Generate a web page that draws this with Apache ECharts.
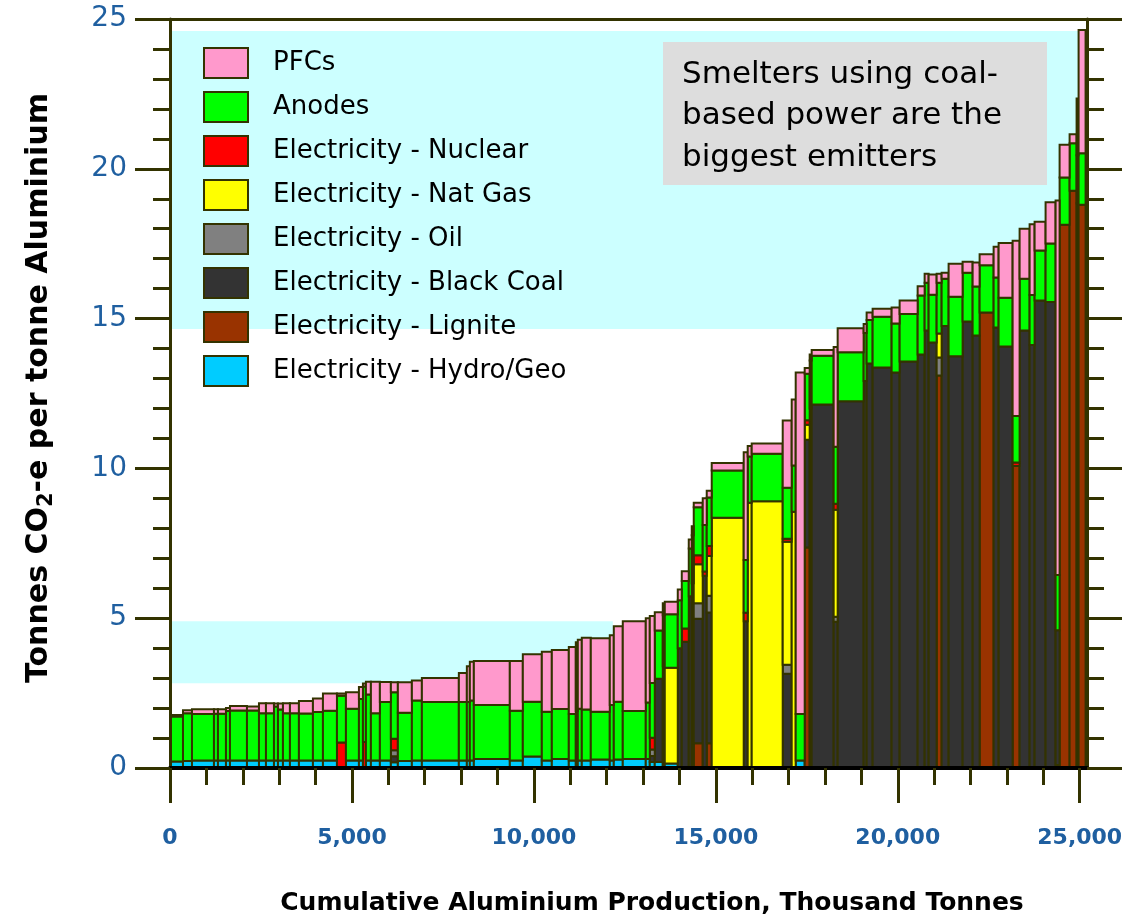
<!DOCTYPE html>
<html>
<head>
<meta charset="utf-8">
<title>Aluminium smelter emissions curve</title>
<script src="https://cdn.jsdelivr.net/npm/echarts@6/dist/echarts.min.js"></script>
<style>
  html, body { margin: 0; padding: 0; background: #ffffff; }
  #chart { width: 1128px; height: 919px; }
</style>
</head>
<body>
<div id="chart"></div>
<script>
// One entry per smelter, ordered by total emission intensity.
// production: thousand tonnes per year; components: t CO2-e per t aluminium.
const production = [357, 247, 604, 110, 220, 110, 467, 330, 192, 220,
  110, 137, 192, 247, 385, 275, 385, 247, 357, 110,
  82, 137, 247, 302, 192, 385, 275, 1016, 220, 82,
  110, 989, 357, 522, 275, 467, 192, 55, 110, 247,
  522, 110, 247, 632, 110, 137, 220, 55, 357, 110,
  192, 82, 55, 247, 110, 137, 879, 110, 110, 852,
  247, 110, 247, 137, 55, 604, 110, 714, 82, 165,
  522, 220, 495, 192, 110, 220, 137, 192, 385, 275,
  192, 385, 137, 385, 192, 275, 137, 302, 275, 110,
  275, 192, 55, 192];

const hydro = [0.22, 0.23, 0.25, 0.25, 0.25, 0.25, 0.25, 0.25, 0.25, 0.25,
  0.25, 0.25, 0.25, 0.25, 0.25, 0.25, 0.25, 0, 0.25, 0.25,
  0, 0.25, 0.25, 0.25, 0.19, 0.23, 0.25, 0.25, 0.25, 0.25,
  0.25, 0.3, 0.25, 0.38, 0.25, 0.3, 0.25, 0.25, 0.25, 0.25,
  0.28, 0.25, 0.28, 0.3, 0.3, 0.2, 0.2, 0.2, 0.15, 0,
  0, 0, 0, 0, 0, 0, 0, 0, 0, 0,
  0, 0, 0.25, 0, 0, 0, 0, 0, 0, 0,
  0, 0, 0, 0, 0, 0, 0, 0, 0, 0,
  0, 0, 0, 0, 0, 0, 0, 0, 0, 0.1,
  0, 0, 0, 0];

const lignite = [0, 0, 0, 0, 0, 0, 0, 0, 0, 0,
  0, 0, 0, 0, 0, 0, 0, 0, 0, 0,
  0, 0, 0, 0, 0, 0, 0, 0, 0, 0,
  0, 0, 0, 0, 0, 0, 0, 0, 0, 0,
  0, 0, 0, 0, 0, 0, 0, 0, 0, 0,
  0, 0, 0, 0.83, 0, 0.83, 0, 0, 0, 0,
  0, 0, 0, 7.36, 0, 0, 0, 0, 0, 0,
  0, 0, 0, 0, 0, 0, 13.1, 0, 0, 0,
  0, 15.2, 0, 0, 10.08, 0, 0, 0, 0, 0,
  18.13, 19.27, 18.85, 18.8];

const blackCoal = [0, 0, 0, 0, 0, 0, 0, 0, 0, 0,
  0, 0, 0, 0, 0, 0, 0, 0, 0, 0,
  0, 0, 0, 0, 0.2, 0, 0, 0, 0, 0,
  0, 0, 0, 0, 0, 0, 0, 0, 0, 0,
  0, 0, 0, 0, 0, 0.2, 2.78, 0, 0, 4.0,
  4.21, 5.73, 6.17, 4.15, 6.42, 4.36, 0, 4.9, 0, 0,
  3.15, 0, 0, 3.6, 12.0, 12.13, 4.88, 12.24, 12.92, 13.5,
  13.37, 13.2, 13.57, 13.8, 14.6, 14.2, 0, 14.75, 13.74, 14.9,
  14.44, 0, 14.7, 14.07, 0, 14.6, 14.12, 15.6, 15.55, 4.5,
  0, 0, 0, 0];

const oil = [0, 0, 0, 0, 0, 0, 0, 0, 0, 0,
  0, 0, 0, 0, 0, 0, 0, 0, 0, 0,
  0, 0, 0, 0, 0.2, 0, 0, 0, 0, 0,
  0, 0, 0, 0, 0, 0, 0, 0, 0, 0,
  0, 0, 0, 0, 0, 0.22, 0, 0, 0, 0,
  0, 0, 0, 0.52, 0, 0.56, 0, 0, 0, 0,
  0.3, 0, 0, 0, 0, 0, 0.17, 0, 0, 0,
  0, 0, 0, 0, 0, 0, 0.6, 0, 0, 0,
  0, 0, 0, 0, 0, 0, 0, 0, 0, 0,
  0, 0, 0, 0];

const natGas = [0, 0, 0, 0, 0, 0, 0, 0, 0, 0,
  0, 0, 0, 0, 0, 0, 0, 0, 0, 0,
  0, 0, 0, 0, 0, 0, 0, 0, 0, 0,
  0, 0, 0, 0, 0, 0, 0, 0, 0, 0,
  0, 0, 0, 0, 0, 0, 0, 3.2, 3.2, 0,
  0, 0, 0, 1.3, 0, 1.33, 8.35, 0, 8.85, 8.9,
  4.1, 8.55, 0, 0.5, 0, 0, 3.57, 0, 0, 0,
  0, 0, 0, 0, 0, 0, 0.8, 0, 0, 0,
  0, 0, 0, 0, 0, 0, 0, 0, 0, 0,
  0, 0, 0, 0];

const nuclear = [0, 0, 0, 0, 0, 0, 0, 0, 0, 0,
  0, 0, 0, 0, 0, 0, 0, 0.85, 0, 0,
  0.87, 0, 0, 0, 0.39, 0, 0, 0, 0, 0,
  0, 0, 0, 0, 0, 0, 0, 0, 0, 0,
  0, 0, 0, 0, 0, 0.39, 0, 0, 0, 0,
  0.45, 0, 0, 0.3, 0.14, 0.33, 0, 0.28, 0, 0,
  0.1, 0, 0, 0.15, 0, 0, 0.2, 0, 0, 0,
  0, 0, 0, 0, 0, 0, 0, 0, 0, 0,
  0, 0, 0, 0, 0.12, 0, 0, 0, 0, 0,
  0, 0, 0, 0];

const anodes = [1.5, 1.6, 1.55, 1.56, 1.56, 1.65, 1.67, 1.67, 1.58, 1.58,
  1.8, 1.7, 1.58, 1.58, 1.57, 1.62, 1.66, 1.56, 1.73, 2.05,
  1.85, 2.2, 1.58, 1.95, 1.55, 1.61, 2.0, 1.95, 1.95, 1.95,
  2.0, 1.8, 1.66, 1.83, 1.63, 1.67, 1.55, 1.65, 1.73, 1.7,
  1.6, 1.85, 1.93, 1.6, 1.89, 1.83, 1.61, 1.7, 1.78, 1.6,
  1.58, 1.6, 1.6, 1.6, 1.55, 1.62, 1.58, 1.76, 1.55, 1.59,
  1.7, 1.55, 1.55, 1.55, 1.6, 1.63, 1.9, 1.64, 1.6, 1.45,
  1.69, 1.64, 1.58, 1.97, 1.6, 1.6, 1.7, 1.58, 1.99, 1.63,
  1.63, 1.58, 1.67, 1.63, 1.55, 1.73, 1.67, 1.67, 1.96, 1.84,
  1.58, 1.58, 1.6, 1.72];

const pfcs = [0.05, 0.1, 0.16, 0.15, 0.15, 0.1, 0.15, 0.13, 0.33, 0.33,
  0.1, 0.2, 0.33, 0.33, 0.42, 0.45, 0.58, 0.08, 0.55, 0.4,
  0.1, 0.43, 1.05, 0.67, 0.33, 1.02, 0.67, 0.8, 0.97, 1.2,
  1.3, 1.47, 1.66, 1.59, 2.0, 1.97, 2.24, 2.3, 2.3, 2.4,
  2.45, 2.33, 2.52, 3.0, 2.81, 2.23, 0.61, 0.4, 0.42, 0.36,
  0.33, 0.3, 0.3, 0.15, 0.89, 0.22, 0.25, 3.6, 0.35, 0.34,
  2.25, 2.2, 11.4, 0.19, 0.2, 0.19, 3.33, 0.8, 0.3, 0.25,
  0.27, 0.53, 0.45, 0.31, 0.3, 0.67, 0.3, 0.2, 1.1, 0.37,
  0.8, 0.37, 1.03, 1.82, 5.85, 1.67, 2.36, 0.96, 1.37, 12.5,
  1.09, 0.3, 1.9, 4.11];

// Shaded ranges: [fromProduction, toProduction, fromValue, toValue]
const bandHigh = [0, 25000, 14.65, 24.6];
const bandLow = [0, 12170, 2.83, 4.9];

const xMajorTicks = [0, 5000, 10000, 15000, 20000, 25000];
const xMinorTicks = [];
for (let v = 0; v <= 25000; v += 1000) xMinorTicks.push(v);

const legendNames = ['PFCs', 'Anodes', 'Electricity - Nuclear', 'Electricity - Nat Gas',
  'Electricity - Oil', 'Electricity - Black Coal', 'Electricity - Lignite', 'Electricity - Hydro/Geo'];

const noteText = 'Smelters using coal-\nbased power are the\nbiggest emitters';

// Stacking order from the baseline upwards
const components = [
  { name: 'Electricity - Hydro/Geo', values: hydro, color: '#00CCFF' },
  { name: 'Electricity - Lignite', values: lignite, color: '#993300' },
  { name: 'Electricity - Black Coal', values: blackCoal, color: '#333333' },
  { name: 'Electricity - Oil', values: oil, color: '#808080' },
  { name: 'Electricity - Nat Gas', values: natGas, color: '#FFFF00' },
  { name: 'Electricity - Nuclear', values: nuclear, color: '#FF0000' },
  { name: 'Anodes', values: anodes, color: '#00FF00' },
  { name: 'PFCs', values: pfcs, color: '#FF99CC' }
];

const OLIVE = '#333300';
const BLUE = '#1F5FA0';
const FONT = 'DejaVu Sans';

// Cumulative production gives each smelter's left/right edge
const leftEdge = [], rightEdge = [];
let running = 0;
production.forEach(p => { leftEdge.push(running); running += p; rightEdge.push(running); });

function renderBlock(params, api) {
  const a = api.coord([api.value(0), api.value(2)]);
  const b = api.coord([api.value(1), api.value(3)]);
  return {
    type: 'rect',
    shape: { x: a[0], y: b[1], width: b[0] - a[0], height: a[1] - b[1] },
    style: { fill: api.visual('color'), stroke: OLIVE, lineWidth: 2 }
  };
}

function renderBand(params, api) {
  const a = api.coord([api.value(0), api.value(2)]);
  const b = api.coord([api.value(1), api.value(3)]);
  return {
    type: 'rect',
    shape: { x: a[0], y: b[1], width: b[0] - a[0], height: a[1] - b[1] },
    style: { fill: '#CCFFFF' }
  };
}

const stackBase = production.map(() => 0);
const blockSeries = components.map(c => {
  const data = [];
  c.values.forEach((v, i) => {
    if (v > 0) data.push([leftEdge[i], rightEdge[i], stackBase[i], stackBase[i] + v]);
    stackBase[i] += v;
  });
  return {
    type: 'custom',
    name: c.name,
    renderItem: renderBlock,
    itemStyle: { color: c.color },
    encode: { x: [0, 1], y: [2, 3] },
    data: data,
    z: 3,
    clip: true
  };
});

const bandSeries = {
  type: 'custom',
  name: 'bands',
  silent: true,
  renderItem: renderBand,
  encode: { x: [0, 1], y: [2, 3] },
  data: [bandHigh, bandLow],
  z: 1
};

const fmtThousands = v => String(v).replace(/\B(?=(\d{3})+(?!\d))/g, ',');

const tickLine = { color: OLIVE, width: 3 };

const chart = echarts.init(document.getElementById('chart'), null, { renderer: 'canvas' });
chart.setOption({
  animation: false,
  backgroundColor: '#ffffff',
  grid: { left: 170, right: 41, top: 19, bottom: 151, containLabel: false },
  xAxis: [
    {
      type: 'value', min: 0, max: 25200, position: 'bottom', z: 10,
      axisLine: { show: true, onZero: false, lineStyle: { color: '#000000', width: 4 } },
      axisTick: { show: true, customValues: xMinorTicks, length: 17, lineStyle: tickLine },
      axisLabel: {
        customValues: xMajorTicks, margin: 59, formatter: fmtThousands,
        color: BLUE, fontFamily: FONT, fontWeight: 'bold', fontSize: 22
      },
      splitLine: { show: false }
    },
    {
      type: 'value', min: 0, max: 25200, position: 'bottom', z: 9,
      axisLine: { show: false, onZero: false },
      axisTick: { show: true, customValues: xMajorTicks, length: 35, lineStyle: tickLine },
      axisLabel: { show: false },
      splitLine: { show: false }
    },
    {
      type: 'value', min: 0, max: 25200, position: 'top', z: 10,
      axisLine: { show: true, onZero: false, lineStyle: { color: OLIVE, width: 3 } },
      axisTick: { show: false },
      axisLabel: { show: false },
      splitLine: { show: false }
    }
  ],
  yAxis: [
    {
      type: 'value', min: 0, max: 25, interval: 5, position: 'left', z: 10,
      axisLine: { show: true, onZero: false, lineStyle: { color: OLIVE, width: 3 } },
      axisTick: { show: true, length: 35, lineStyle: tickLine },
      minorTick: { show: true, splitNumber: 5, length: 17, lineStyle: tickLine },
      axisLabel: { margin: 43, color: BLUE, fontFamily: FONT, fontSize: 28 },
      splitLine: { show: false }
    },
    {
      type: 'value', min: 0, max: 25, interval: 5, position: 'right', z: 10,
      axisLine: { show: true, onZero: false, lineStyle: { color: OLIVE, width: 3 } },
      axisTick: { show: true, length: 35, lineStyle: tickLine },
      minorTick: { show: true, splitNumber: 5, length: 17, lineStyle: tickLine },
      axisLabel: { show: false },
      splitLine: { show: false }
    }
  ],
  legend: {
    data: legendNames,
    orient: 'vertical',
    left: 203,
    top: 47,
    padding: 0,
    itemWidth: 44,
    itemHeight: 30,
    itemGap: 12,
    icon: 'rect',
    itemStyle: { borderColor: OLIVE, borderWidth: 2 },
    textStyle: { fontFamily: FONT, fontSize: 26, color: '#000000', padding: [0, 0, 0, 20] },
    selectedMode: false
  },
  graphic: [
    {
      type: 'rect', left: 663, top: 42, z: 20,
      shape: { width: 384, height: 143 },
      style: { fill: '#DDDDDD' }
    },
    {
      type: 'text', x: 682, y: 54, z: 21,
      style: {
        text: noteText, font: '31px "DejaVu Sans"', fill: '#000000',
        lineHeight: 41.5, verticalAlign: 'top', align: 'left'
      }
    },
    {
      type: 'text', x: 652, y: 903, z: 21,
      style: {
        text: 'Cumulative Aluminium Production, Thousand Tonnes',
        font: 'bold 25px "DejaVu Sans"', fill: '#000000',
        align: 'center', verticalAlign: 'middle'
      }
    },
    {
      type: 'text', x: 39, y: 388, rotation: Math.PI / 2, z: 21,
      style: {
        text: '{m|Tonnes CO}{s|2}{m|-e per tonne Aluminium}',
        align: 'center', verticalAlign: 'middle',
        rich: {
          m: { fontFamily: FONT, fontWeight: 'bold', fontSize: 30, fill: '#000000' },
          s: { fontFamily: FONT, fontWeight: 'bold', fontSize: 21, fill: '#000000', padding: [16, 0, 0, 0] }
        }
      }
    }
  ],
  series: [bandSeries].concat(blockSeries)
});
</script>
</body>
</html>
